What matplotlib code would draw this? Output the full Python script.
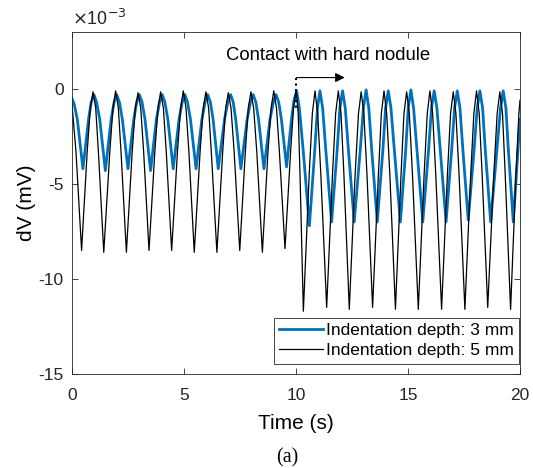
import numpy as np
import matplotlib
matplotlib.use('Agg')
import matplotlib.pyplot as plt

plt.rcParams['font.family'] = ['Liberation Sans', 'DejaVu Sans']

# (time s, dV in 1e-3 mV) vertices
pts_3mm = [(0.00, -0.5), (0.10, -0.8),
           (0.24, -1.6), (0.49, -4.2), (0.74, -1.6), (0.86, -0.7), (0.98, -0.3), (1.10, -0.7),
           (1.24, -1.6), (1.49, -4.3), (1.75, -1.6), (1.88, -0.7), (2.00, -0.3), (2.12, -0.7),
           (2.25, -1.6), (2.50, -4.2), (2.76, -1.6), (2.89, -0.7), (3.01, -0.3), (3.13, -0.7),
           (3.26, -1.6), (3.51, -4.3), (3.77, -1.6), (3.91, -0.7), (4.03, -0.3), (4.15, -0.7),
           (4.28, -1.6), (4.52, -4.2), (4.78, -1.6), (4.92, -0.7), (5.04, -0.3), (5.16, -0.7),
           (5.29, -1.6), (5.54, -4.2), (5.80, -1.6), (5.94, -0.7), (6.06, -0.3), (6.18, -0.7),
           (6.30, -1.6), (6.53, -4.2), (6.81, -1.6), (6.96, -0.7), (7.08, -0.3), (7.20, -0.7),
           (7.31, -1.6), (7.54, -4.2), (7.82, -1.6), (7.97, -0.7), (8.09, -0.3), (8.21, -0.7),
           (8.33, -1.6), (8.57, -4.2), (8.84, -1.6), (8.99, -0.7), (9.11, -0.3), (9.23, -0.7),
           (9.35, -1.6), (9.58, -4.1), (9.80, -1.6), (9.91, -0.6), (10.03, -0.1), (10.15, -1.0),
           (10.32, -3.2), (10.60, -7.2), (10.84, -3.2), (10.96, -1.0), (11.07, -0.1), (11.19, -1.0),
           (11.33, -3.2), (11.59, -7.0), (11.84, -3.2), (11.96, -1.0), (12.08, -0.1), (12.20, -1.0),
           (12.34, -3.2), (12.60, -7.0), (12.87, -3.2), (13.01, -1.0), (13.13, -0.05), (13.25, -1.0),
           (13.38, -3.2), (13.63, -7.0), (13.88, -3.2), (14.00, -1.0), (14.12, -0.1), (14.24, -1.0),
           (14.39, -3.2), (14.66, -7.0), (14.90, -3.2), (15.01, -1.0), (15.13, -0.05), (15.25, -1.0),
           (15.40, -3.2), (15.66, -7.0), (15.92, -3.2), (16.05, -1.0), (16.17, -0.1), (16.29, -1.0),
           (16.44, -3.2), (16.70, -7.0), (16.95, -3.2), (17.08, -1.0), (17.20, -0.1), (17.32, -1.0),
           (17.45, -3.2), (17.69, -6.9), (17.95, -3.2), (18.09, -1.0), (18.21, -0.1), (18.33, -1.0),
           (18.45, -3.2), (18.69, -7.0), (18.97, -3.2), (19.13, -1.0), (19.25, -0.1), (19.37, -1.0),
           (19.48, -3.2), (19.70, -7.0), (20.00, -1.6)]

pts_5mm = [(0.00, -0.8),
           (0.18, -3.3), (0.43, -8.5), (0.68, -3.3), (0.82, -1.0), (0.94, -0.15), (1.06, -1.0),
           (1.18, -3.3), (1.42, -8.6), (1.69, -3.3), (1.83, -1.0), (1.95, -0.1), (2.07, -1.0),
           (2.19, -3.3), (2.43, -8.6), (2.69, -3.3), (2.83, -1.0), (2.95, -0.2), (3.07, -1.0),
           (3.20, -3.3), (3.44, -8.5), (3.70, -3.3), (3.84, -1.0), (3.96, -0.15), (4.08, -1.0),
           (4.21, -3.3), (4.45, -8.5), (4.71, -3.3), (4.85, -1.0), (4.97, -0.1), (5.09, -1.0),
           (5.22, -3.3), (5.46, -8.6), (5.72, -3.3), (5.86, -1.0), (5.98, -0.15), (6.10, -1.0),
           (6.22, -3.3), (6.47, -8.6), (6.73, -3.3), (6.86, -1.0), (6.98, -0.2), (7.10, -1.0),
           (7.24, -3.3), (7.49, -8.5), (7.74, -3.3), (7.87, -1.0), (7.99, -0.15), (8.11, -1.0),
           (8.25, -3.3), (8.50, -8.6), (8.75, -3.3), (8.89, -1.0), (9.01, -0.1), (9.13, -1.0),
           (9.26, -3.3), (9.51, -8.4), (9.76, -3.3), (9.89, -1.0), (10.01, -0.05), (10.10, -1.3),
           (10.18, -4.5), (10.33, -11.7), (10.59, -4.5), (10.73, -1.3), (10.85, -0.1), (10.97, -1.3),
           (11.11, -4.5), (11.37, -11.5), (11.63, -4.5), (11.77, -1.3), (11.89, -0.1), (12.01, -1.3),
           (12.14, -4.5), (12.38, -11.6), (12.64, -4.5), (12.79, -1.3), (12.91, -0.15), (13.03, -1.3),
           (13.17, -4.5), (13.42, -11.5), (13.68, -4.5), (13.81, -1.3), (13.93, -0.1), (14.05, -1.3),
           (14.19, -4.5), (14.44, -11.6), (14.69, -4.5), (14.82, -1.3), (14.94, -0.15), (15.06, -1.3),
           (15.20, -4.5), (15.46, -11.6), (15.72, -4.5), (15.86, -1.3), (15.98, -0.1), (16.10, -1.3),
           (16.24, -4.5), (16.50, -11.6), (16.76, -4.5), (16.90, -1.3), (17.02, -0.15), (17.14, -1.3),
           (17.28, -4.5), (17.54, -11.6), (17.80, -4.5), (17.94, -1.3), (18.06, -0.1), (18.18, -1.3),
           (18.31, -4.5), (18.56, -11.5), (18.83, -4.5), (18.98, -1.3), (19.10, -0.15), (19.22, -1.3),
           (19.34, -4.5), (19.58, -11.6), (19.82, -4.5), (19.95, -1.3), (20.00, -0.6)]

labels = ['Indentation depth: 3 mm', 'Indentation depth: 5 mm']
t_3mm, v_3mm = np.array(pts_3mm).T
t_5mm, v_5mm = np.array(pts_5mm).T

fig = plt.figure(figsize=(5.33, 4.68), dpi=100)
ax = fig.add_axes([0.135, 0.201, 0.8406, 0.7307])

ax.plot(t_3mm, v_3mm * 1e-3, color='#0072BD', lw=2.0, label=labels[0])
ax.plot(t_5mm, v_5mm * 1e-3, color='black', lw=0.9, label=labels[1])

# contact marker
ax.plot([10.0, 10.0], [0.6e-3, -1.1e-3], color='black', ls=':', lw=1.5)
ax.annotate('', xy=(12.3, 0.6e-3), xytext=(9.9, 0.6e-3),
            arrowprops=dict(arrowstyle='-|>', color='black', lw=0.8,
                            mutation_scale=14))
ax.text(11.45, 1.78e-3, 'Contact with hard nodule', ha='center', va='center',
        fontsize=13.3)

ax.set_xlim(0, 20)
ax.set_ylim(-15e-3, 3e-3)
ax.set_xticks([0, 5, 10, 15, 20])
ax.set_yticks([-15e-3, -10e-3, -5e-3, 0])
ax.set_yticklabels(['-15', '-10', '-5', '0'])
ax.tick_params(direction='in', top=True, right=True, labelsize=12.5,
               length=4, width=0.6, colors='#262626')
ax.tick_params(axis='x', pad=10)
ax.tick_params(axis='y', pad=6)
for s in ax.spines.values():
    s.set_linewidth(0.6)
    s.set_color('#262626')
ax.text(0, 1.01, r'$\times$10$^{-3}$', transform=ax.transAxes,
        fontsize=12.9, ha='left', va='bottom', color='#262626')

ax.set_xlabel('Time (s)', fontsize=15, labelpad=8)
ax.set_ylabel('dV (mV)', fontsize=15, labelpad=2)

leg = ax.legend(loc='lower right', bbox_to_anchor=(0.998, 0.03),
                fontsize=12.5, handlelength=2.5,
                fancybox=False, framealpha=1, edgecolor='#262626',
                borderpad=0.3, labelspacing=0.3, handletextpad=0.2,
                borderaxespad=0.0)
leg.get_frame().set_linewidth(0.6)

fig.text(0.539, 0.022, '(a)', family='Liberation Serif', fontsize=14.5,
         ha='center', va='center')

fig.savefig('out.png', dpi=100)
